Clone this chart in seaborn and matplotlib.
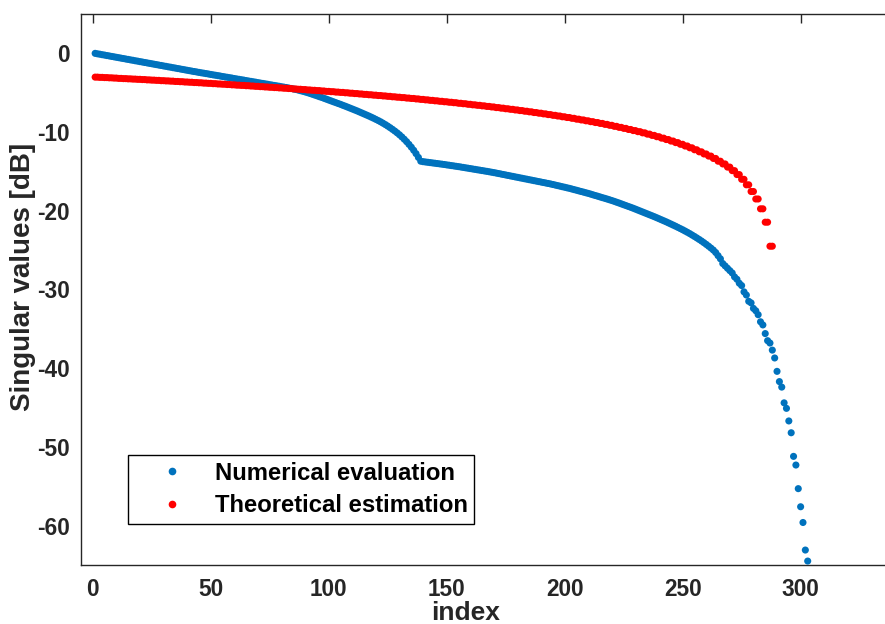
import numpy as np
import pandas as pd
import matplotlib
matplotlib.use("Agg")
import matplotlib.pyplot as plt
from matplotlib.lines import Line2D
import seaborn as sns

# Singular values (dB) from the numerical evaluation, one per index
numerical_db = [
    0.00, -0.06, -0.11, -0.17, -0.22, -0.28, -0.33, -0.39, -0.44, -0.50,
    -0.55, -0.61, -0.66, -0.72, -0.77, -0.83, -0.88, -0.94, -0.99, -1.05,
    -1.10, -1.16, -1.21, -1.27, -1.32, -1.38, -1.43, -1.49, -1.54, -1.60,
    -1.65, -1.71, -1.76, -1.82, -1.87, -1.93, -1.98, -2.04, -2.09, -2.15,
    -2.20, -2.26, -2.31, -2.36, -2.42, -2.47, -2.52, -2.57, -2.62, -2.68,
    -2.73, -2.78, -2.83, -2.88, -2.94, -2.99, -3.04, -3.09, -3.14, -3.20,
    -3.25, -3.30, -3.35, -3.40, -3.46, -3.51, -3.56, -3.61, -3.66, -3.72,
    -3.77, -3.82, -3.87, -3.92, -3.98, -4.03, -4.08, -4.13, -4.18, -4.24,
    -4.29, -4.34, -4.40, -4.46, -4.52, -4.59, -4.66, -4.74, -4.82, -4.90,
    -4.99, -5.09, -5.19, -5.29, -5.39, -5.50, -5.60, -5.71, -5.82, -5.93,
    -6.04, -6.15, -6.26, -6.37, -6.48, -6.60, -6.71, -6.83, -6.95, -7.07,
    -7.19, -7.31, -7.44, -7.57, -7.70, -7.83, -7.96, -8.10, -8.24, -8.39,
    -8.54, -8.70, -8.87, -9.05, -9.24, -9.44, -9.65, -9.87, -10.10, -10.35,
    -10.62, -10.91, -11.22, -11.56, -11.92, -12.31, -12.74, -13.22, -13.70, -13.76,
    -13.80, -13.84, -13.88, -13.92, -13.96, -14.00, -14.04, -14.08, -14.12, -14.17,
    -14.21, -14.26, -14.30, -14.35, -14.39, -14.44, -14.49, -14.54, -14.59, -14.64,
    -14.69, -14.74, -14.79, -14.84, -14.89, -14.94, -14.99, -15.04, -15.10, -15.15,
    -15.21, -15.27, -15.33, -15.39, -15.45, -15.51, -15.57, -15.63, -15.69, -15.75,
    -15.81, -15.87, -15.93, -15.99, -16.05, -16.11, -16.17, -16.23, -16.29, -16.35,
    -16.41, -16.47, -16.53, -16.59, -16.66, -16.73, -16.80, -16.87, -16.94, -17.01,
    -17.08, -17.15, -17.23, -17.31, -17.39, -17.47, -17.55, -17.63, -17.71, -17.79,
    -17.88, -17.97, -18.06, -18.15, -18.24, -18.33, -18.42, -18.51, -18.60, -18.70,
    -18.80, -18.91, -19.01, -19.12, -19.23, -19.34, -19.45, -19.56, -19.67, -19.79,
    -19.91, -20.03, -20.15, -20.27, -20.39, -20.51, -20.63, -20.75, -20.88, -21.01,
    -21.14, -21.27, -21.40, -21.54, -21.68, -21.82, -21.96, -22.11, -22.26, -22.41,
    -22.57, -22.73, -22.90, -23.08, -23.26, -23.45, -23.64, -23.84, -24.05, -24.27,
    -24.50, -24.74, -24.99, -25.30, -25.70, -26.10, -26.70, -27.00, -27.30, -27.60,
    -27.90, -28.40, -28.70, -29.20, -29.50, -30.30, -30.70, -31.50, -31.70, -32.40,
    -32.70, -33.20, -34.10, -34.50, -35.60, -36.50, -36.80, -37.70, -38.70, -40.40,
    -41.70, -42.40, -44.40, -45.10, -46.70, -48.20, -51.20, -52.30, -55.30, -57.60,
    -59.60, -63.10, -64.50,
]

# Theoretical estimate (dB); the values come in equal pairs
theoretical_db = [
    -3.02, -3.02, -3.05, -3.05, -3.08, -3.08, -3.11, -3.11, -3.14, -3.14,
    -3.18, -3.18, -3.21, -3.21, -3.24, -3.24, -3.27, -3.27, -3.30, -3.30,
    -3.33, -3.33, -3.37, -3.37, -3.40, -3.40, -3.43, -3.43, -3.47, -3.47,
    -3.50, -3.50, -3.53, -3.53, -3.57, -3.57, -3.60, -3.60, -3.64, -3.64,
    -3.67, -3.67, -3.71, -3.71, -3.74, -3.74, -3.78, -3.78, -3.81, -3.81,
    -3.85, -3.85, -3.89, -3.89, -3.92, -3.92, -3.96, -3.96, -4.00, -4.00,
    -4.04, -4.04, -4.07, -4.07, -4.11, -4.11, -4.15, -4.15, -4.19, -4.19,
    -4.23, -4.23, -4.27, -4.27, -4.31, -4.31, -4.35, -4.35, -4.39, -4.39,
    -4.43, -4.43, -4.47, -4.47, -4.52, -4.52, -4.56, -4.56, -4.60, -4.60,
    -4.65, -4.65, -4.69, -4.69, -4.73, -4.73, -4.78, -4.78, -4.83, -4.83,
    -4.87, -4.87, -4.92, -4.92, -4.96, -4.96, -5.01, -5.01, -5.06, -5.06,
    -5.11, -5.11, -5.16, -5.16, -5.21, -5.21, -5.26, -5.26, -5.31, -5.31,
    -5.36, -5.36, -5.41, -5.41, -5.46, -5.46, -5.52, -5.52, -5.57, -5.57,
    -5.62, -5.62, -5.68, -5.68, -5.73, -5.73, -5.79, -5.79, -5.85, -5.85,
    -5.91, -5.91, -5.97, -5.97, -6.03, -6.03, -6.09, -6.09, -6.15, -6.15,
    -6.21, -6.21, -6.27, -6.27, -6.34, -6.34, -6.40, -6.40, -6.47, -6.47,
    -6.54, -6.54, -6.60, -6.60, -6.67, -6.67, -6.74, -6.74, -6.81, -6.81,
    -6.89, -6.89, -6.96, -6.96, -7.04, -7.04, -7.11, -7.11, -7.19, -7.19,
    -7.27, -7.27, -7.35, -7.35, -7.43, -7.43, -7.52, -7.52, -7.60, -7.60,
    -7.69, -7.69, -7.78, -7.78, -7.87, -7.87, -7.96, -7.96, -8.06, -8.06,
    -8.15, -8.15, -8.25, -8.25, -8.36, -8.36, -8.46, -8.46, -8.57, -8.57,
    -8.68, -8.68, -8.79, -8.79, -8.90, -8.90, -9.02, -9.02, -9.14, -9.14,
    -9.27, -9.27, -9.40, -9.40, -9.53, -9.53, -9.67, -9.67, -9.81, -9.81,
    -9.95, -9.95, -10.10, -10.10, -10.26, -10.26, -10.42, -10.42, -10.59, -10.59,
    -10.77, -10.77, -10.95, -10.95, -11.14, -11.14, -11.34, -11.34, -11.55, -11.55,
    -11.77, -11.77, -12.00, -12.00, -12.25, -12.25, -12.51, -12.51, -12.78, -12.78,
    -13.05, -13.05, -13.35, -13.35, -13.70, -13.70, -14.05, -14.05, -14.45, -14.45,
    -14.90, -14.90, -15.40, -15.40, -16.00, -16.00, -16.70, -16.70, -17.55, -17.55,
    -18.50, -18.50, -19.75, -19.75, -21.45, -21.45, -24.50, -24.50,
]

series_names = ["Numerical evaluation", "Theoretical estimation"]
series_colors = ["#0072BD", "#FF0000"]
x_ticks = [0, 50, 100, 150, 200, 250, 300]
y_ticks = [-60, -50, -40, -30, -20, -10, 0]

df = pd.concat([
    pd.DataFrame({"index": np.arange(1, len(numerical_db) + 1),
                  "value": numerical_db, "series": series_names[0]}),
    pd.DataFrame({"index": np.arange(1, len(theoretical_db) + 1),
                  "value": theoretical_db, "series": series_names[1]}),
], ignore_index=True)

sns.set_theme(style="white")
plt.rcParams["font.family"] = ["Liberation Sans", "DejaVu Sans"]
plt.rcParams["font.weight"] = "bold"
plt.rcParams["axes.unicode_minus"] = False

ink = "#262626"
fig = plt.figure(figsize=(8.85, 6.24), dpi=100)
ax = fig.add_axes([81 / 885, 59 / 624, 814 / 885, 551 / 624])

sns.scatterplot(data=df, x="index", y="value", hue="series",
                palette=series_colors, hue_order=series_names,
                s=26, linewidth=0, alpha=1, legend=False, ax=ax, zorder=3)

ax.set_xlim(-5, 340)
ax.set_ylim(-65, 5)
ax.set_xticks(x_ticks)
ax.set_yticks(y_ticks)
ax.tick_params(direction="in", length=6.5, width=1, top=True, right=False,
               color=ink, labelcolor=ink, labelsize=16.3)
ax.tick_params(axis="x", pad=9)
ax.tick_params(axis="y", pad=8)
for sp in ax.spines.values():
    sp.set_visible(True)
    sp.set_color(ink)
    sp.set_linewidth(1.0)

ax.set_xlabel("index", fontsize=19, fontweight="bold", color=ink)
ax.set_ylabel("Singular values [dB]", fontsize=20, fontweight="bold", color=ink)
ax.xaxis.label.set_va("baseline")
ax.yaxis.label.set_va("center")
ax.xaxis.set_label_coords(0.472, -0.0995)
ax.yaxis.set_label_coords(-0.0713, 0.523)

handles = [Line2D([], [], ls="none", marker="o", ms=5.5, mew=0, color=c)
           for c in series_colors]
leg = ax.legend(handles, series_names, loc="lower left",
                bbox_to_anchor=(0.0577, 0.0744), borderaxespad=0,
                fontsize=17.2, frameon=True, fancybox=False, framealpha=1,
                edgecolor="black", handlelength=3.13, handletextpad=0.22,
                borderpad=0.28, labelspacing=0.4, numpoints=1)
leg.get_frame().set_linewidth(1.0)
for t in leg.get_texts():
    t.set_fontweight("bold")
    t.set_color("black")

fig.savefig("out.png", dpi=100)
